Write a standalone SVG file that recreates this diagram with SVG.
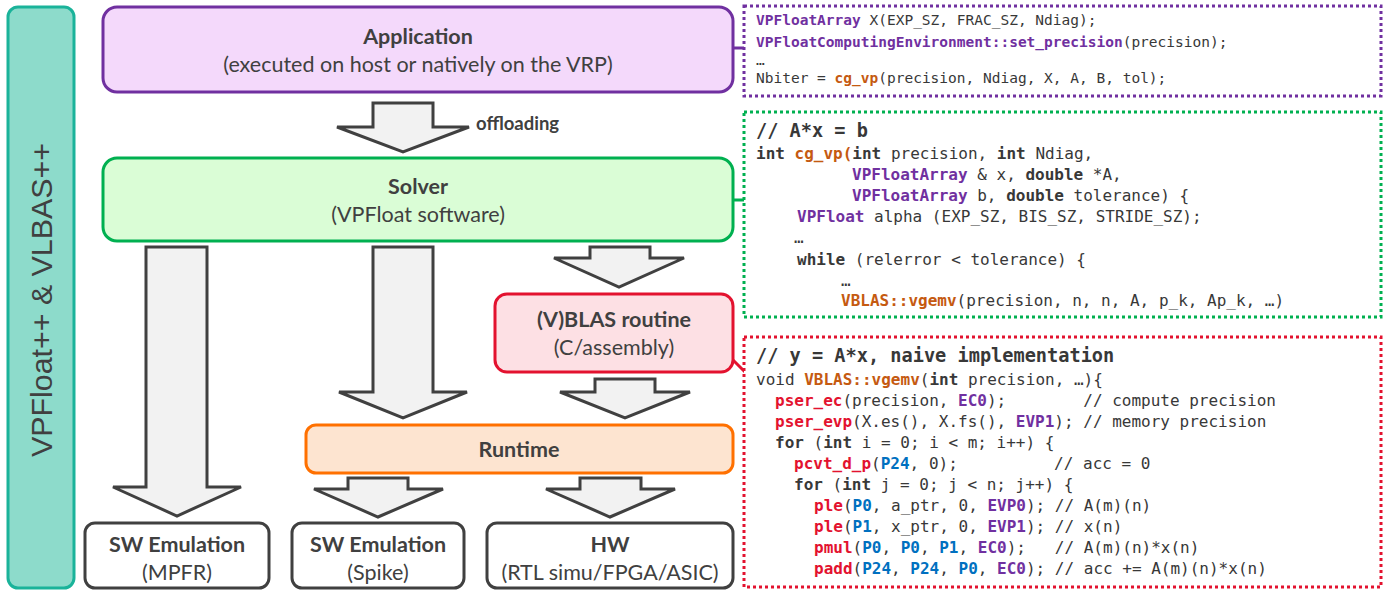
<svg xmlns="http://www.w3.org/2000/svg" width="1384" height="590" viewBox="0 0 1384 590">
<style>
.lbl{font-family:Lato,"Liberation Sans",sans-serif;font-size:21.5px;fill:#404040;text-anchor:middle}
.b{font-weight:bold}
.arr{fill:#f2f2f2;stroke:#404040;stroke-width:3;stroke-linejoin:miter}
.code{font-family:"DejaVu Sans Mono","Liberation Mono",monospace;font-size:16px;fill:#383838;white-space:pre}
.c1{font-size:14.5px}
.hd{font-size:18.6px;font-weight:bold}
.pu{fill:#7030a0;font-weight:bold}
.or{fill:#c55a11;font-weight:bold}
.rd{fill:#e3122f;font-weight:bold}
.bl{fill:#0070c0;font-weight:bold}
.k{font-weight:bold}
.dot{fill:#fff;stroke-width:3;stroke-dasharray:3 3}
</style>
<g id="bar">
<rect x="8" y="7" width="66" height="581" rx="10" fill="#8ddbcb" stroke="#1ab39a" stroke-width="3"/>
<text transform="translate(52,300) rotate(-90)" font-family="'Liberation Sans',sans-serif" font-size="30" fill="#404040" text-anchor="middle" textLength="314" lengthAdjust="spacingAndGlyphs">VPFloat++ &amp; VLBAS++</text>
</g>
<g id="connectors">
<polygon class="arr" points="373,103 433,103 433,127 469,127 403,152 337,127 373,127"/>
<polygon class="arr" points="146,247 207,247 207,487 241,487 177,516 113,487 146,487"/>
<polygon class="arr" points="373,247 433,247 433,392 467,392 403,418 339,392 373,392"/>
<polygon class="arr" points="590,247 650,247 650,258 684,258 619,287 554,258 590,258"/>
<polygon class="arr" points="595,379 655,379 655,392 690,392 625,418 560,392 595,392"/>
<polygon class="arr" points="348,478 408,478 408,489 443,489 378,517 314,489 348,489"/>
<polygon class="arr" points="580,478 641,478 641,489 675,489 610,517 546,489 580,489"/>
<line x1="733" y1="48" x2="745" y2="48" stroke="#7030a0" stroke-width="3"/>
<line x1="733" y1="200" x2="745" y2="200" stroke="#00b050" stroke-width="3"/>
<line x1="733" y1="360" x2="745" y2="372" stroke="#e3122f" stroke-width="3"/>
<text x="476" y="130" class="lbl b" style="font-size:18.5px;text-anchor:start">offloading</text>
</g>
<g id="application">
<rect x="103" y="7" width="630" height="85" rx="14" fill="#f4d9fb" stroke="#7030a0" stroke-width="3"/>
<text x="418" y="44" class="lbl b">Application</text>
<text x="418" y="72" class="lbl">(executed on host or natively on the VRP)</text>
</g>
<g id="solver">
<rect x="103" y="158" width="630" height="83" rx="14" fill="#dafdd6" stroke="#00b050" stroke-width="3"/>
<text x="418" y="194" class="lbl b">Solver</text>
<text x="418" y="222" class="lbl">(VPFloat software)</text>
</g>
<g id="vblas">
<rect x="495" y="294" width="238" height="78" rx="12" fill="#fde0e4" stroke="#e3122f" stroke-width="3"/>
<text x="614" y="327" class="lbl b">(V)BLAS routine</text>
<text x="614" y="355" class="lbl">(C/assembly)</text>
</g>
<g id="runtime">
<rect x="306" y="425" width="427" height="48" rx="10" fill="#fde4d0" stroke="#ff7000" stroke-width="3"/>
<text x="519" y="457" class="lbl b">Runtime</text>
</g>
<g id="mpfr">
<rect x="85" y="523" width="184" height="65" rx="10" fill="#fff" stroke="#404040" stroke-width="3"/>
<text x="177" y="552" class="lbl b">SW Emulation</text>
<text x="177" y="580" class="lbl">(MPFR)</text>
</g>
<g id="spike">
<rect x="292" y="523" width="172" height="65" rx="10" fill="#fff" stroke="#404040" stroke-width="3"/>
<text x="378" y="552" class="lbl b">SW Emulation</text>
<text x="378" y="580" class="lbl">(Spike)</text>
</g>
<g id="hw">
<rect x="487" y="523" width="246" height="65" rx="10" fill="#fff" stroke="#404040" stroke-width="3"/>
<text x="610" y="552" class="lbl b">HW</text>
<text x="610" y="580" class="lbl">(RTL simu/FPGA/ASIC)</text>
</g>
<g id="code-app">
<rect x="744" y="6" width="637" height="90" class="dot" stroke="#7030a0"/>
<text x="756" y="25" class="code c1"><tspan class="pu">VPFloatArray</tspan> X(EXP_SZ, FRAC_SZ, Ndiag);</text>
<text x="756" y="47" class="code c1"><tspan class="pu">VPFloatComputingEnvironment::set_precision</tspan>(precision);</text>
<text x="756" y="65" class="code c1">…</text>
<text x="756" y="83" class="code c1">Nbiter = <tspan class="or">cg_vp</tspan>(precision, Ndiag, X, A, B, tol);</text>
</g>
<g id="code-solver">
<rect x="744" y="112" width="637" height="205" class="dot" stroke="#00b050"/>
<text x="756" y="137" class="code hd">// A*x = b</text>
<text x="756" y="159" class="code"><tspan class="k">int</tspan> <tspan class="or">cg_vp(</tspan><tspan class="k">int</tspan> precision, <tspan class="k">int</tspan> Ndiag,</text>
<text x="852" y="180" class="code"><tspan class="pu">VPFloatArray</tspan> &amp; x, <tspan class="k">double</tspan> *A,</text>
<text x="852" y="201" class="code"><tspan class="pu">VPFloatArray</tspan> b, <tspan class="k">double</tspan> tolerance) {</text>
<text x="797" y="222" class="code"><tspan class="pu">VPFloat</tspan> alpha (EXP_SZ, BIS_SZ, STRIDE_SZ);</text>
<text x="794" y="243" class="code">…</text>
<text x="797" y="265" class="code"><tspan class="k">while</tspan> (relerror &lt; tolerance) {</text>
<text x="841" y="286" class="code">…</text>
<text x="841" y="306" class="code"><tspan class="or">VBLAS::vgemv</tspan>(precision, n, n, A, p_k, Ap_k, …)</text>
</g>
<g id="code-vblas">
<rect x="744" y="337" width="637" height="250" class="dot" stroke="#e3122f"/>
<text x="756" y="362" class="code hd">// y = A*x, naive implementation</text>
<text x="756" y="385" class="code">void <tspan class="or">VBLAS::vgemv</tspan>(<tspan class="k">int</tspan> precision, …){</text>
<text x="775" y="406" class="code"><tspan class="rd">pser_ec</tspan>(precision, <tspan class="pu">EC0</tspan>);        // compute precision</text>
<text x="775" y="427" class="code"><tspan class="rd">pser_evp</tspan>(X.es(), X.fs(), <tspan class="pu">EVP1</tspan>); // memory precision</text>
<text x="775" y="448" class="code"><tspan class="k">for</tspan> (<tspan class="k">int</tspan> i = 0; i &lt; m; i++) {</text>
<text x="794" y="469" class="code"><tspan class="rd">pcvt_d_p</tspan>(<tspan class="bl">P24</tspan>, 0);          // acc = 0</text>
<text x="794" y="490" class="code"><tspan class="k">for</tspan> (<tspan class="k">int</tspan> j = 0; j &lt; n; j++) {</text>
<text x="814" y="511" class="code"><tspan class="rd">ple</tspan>(<tspan class="bl">P0</tspan>, a_ptr, 0, <tspan class="pu">EVP0</tspan>); // A(m)(n)</text>
<text x="814" y="532" class="code"><tspan class="rd">ple</tspan>(<tspan class="bl">P1</tspan>, x_ptr, 0, <tspan class="pu">EVP1</tspan>); // x(n)</text>
<text x="814" y="553" class="code"><tspan class="rd">pmul</tspan>(<tspan class="bl">P0</tspan>, <tspan class="bl">P0</tspan>, <tspan class="bl">P1</tspan>, <tspan class="pu">EC0</tspan>);   // A(m)(n)*x(n)</text>
<text x="814" y="574" class="code"><tspan class="rd">padd</tspan>(<tspan class="bl">P24</tspan>, <tspan class="bl">P24</tspan>, <tspan class="bl">P0</tspan>, <tspan class="pu">EC0</tspan>); // acc += A(m)(n)*x(n)</text>
</g>
</svg>
